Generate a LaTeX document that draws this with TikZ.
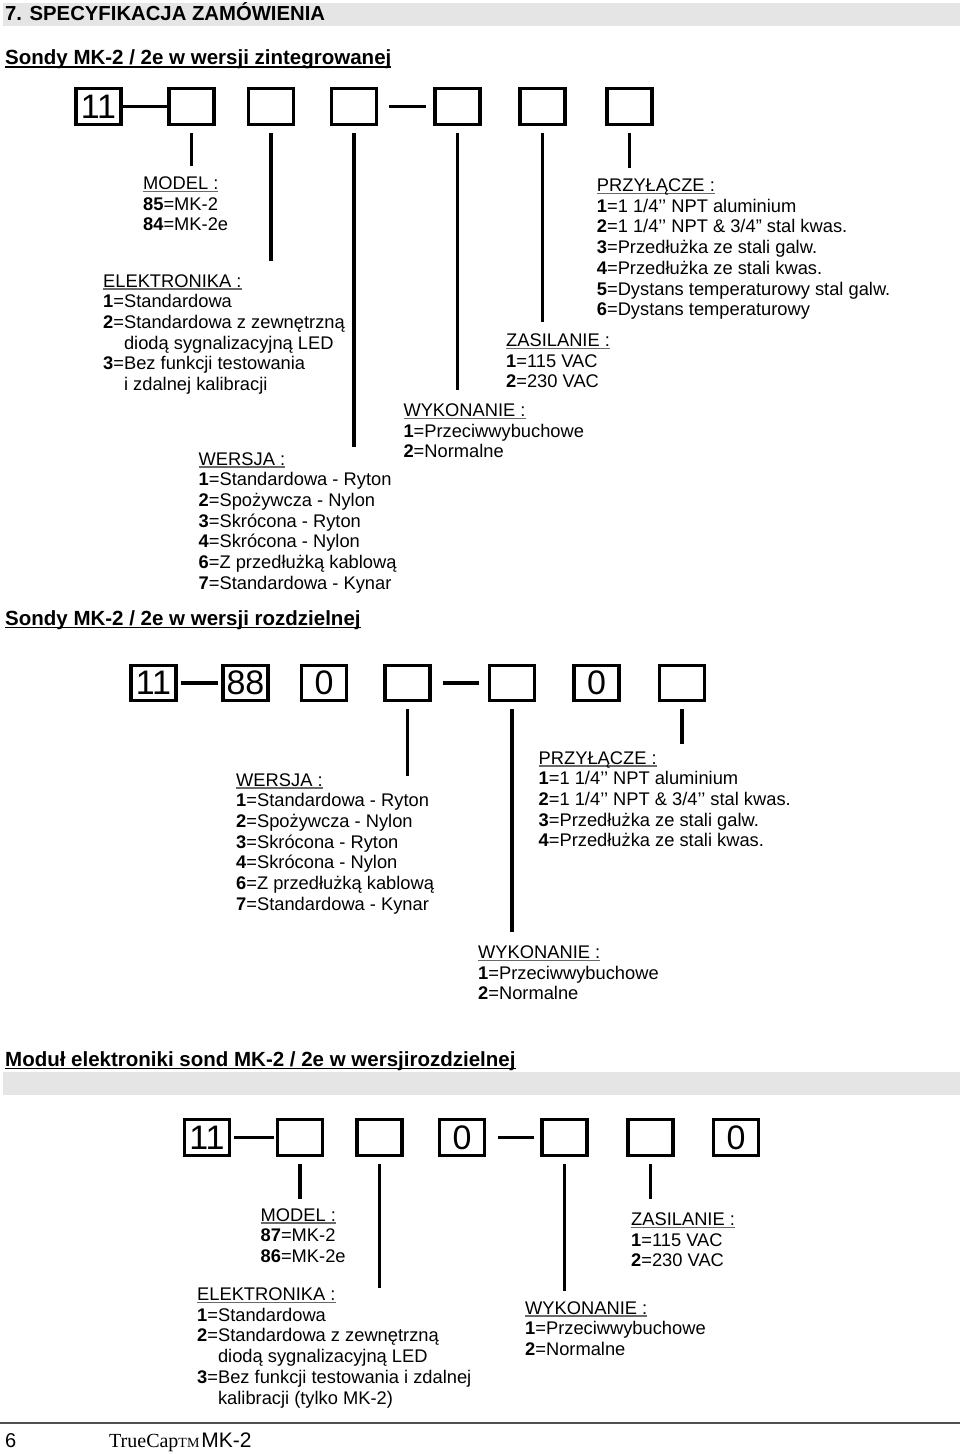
\documentclass[tikz,border=0pt]{standalone}
\usepackage{fontspec}
\setmainfont{Liberation Sans}
\newfontfamily\serifF{Liberation Serif}
\definecolor{band}{RGB}{229,229,229}
\definecolor{ulc}{RGB}{105,105,105}
\definecolor{foot}{RGB}{80,80,80}
\newcommand\lul[1]{\setbox0\hbox{#1}\rlap{\textcolor{ulc}{\rule[-2.6pt]{\wd0}{1.2pt}}}\box0}
\newcommand\hul[1]{\setbox0\hbox{#1}\rlap{\rule[-3.4pt]{\wd0}{1.7pt}}\box0}
\begin{document}
\begin{tikzpicture}[x=1pt,y=-1pt,
  box/.style={draw, line width=3.4pt, minimum width=45pt, minimum height=35.5pt, inner sep=0pt, font=\fontsize{34}{34}\selectfont},
  lead/.style={line width=3.2pt},
  hyph/.style={line width=3.4pt},
  txt/.style={anchor=base west, inner sep=0pt, font=\fontsize{18.3}{20.7}\selectfont},
  head/.style={anchor=base west, inner sep=0pt, font=\fontsize{20.5}{24}\selectfont\bfseries}]
\useasboundingbox (0,0) rectangle (960,1454);
% bands
\fill[band] (3,3) rectangle (960,26);
\fill[band] (3,1072) rectangle (960,1095);
\node[head, font=\fontsize{20.3}{24}\selectfont\bfseries] (title) at (5,20.7) {7. SPECYFIKACJA ZAMÓWIENIA};
\node[head] (h1) at (5,64.3) {\hul{Sondy MK-2 / 2e w wersji zintegrowanej}};
\node[head] (h2) at (5,625) {\hul{Sondy MK-2 / 2e w wersji rozdzielnej}};
\node[head] (h3) at (5,1066) {\hul{Moduł elektroniki sond MK-2 / 2e w wersjirozdzielnej}};

% ---------- diagram 1 ----------
\node[box] (a0) at (98.5,106.5) {11};
\node[box] (a1) at (191.5,106.5) {};
\node[box] (a2) at (271,106.5) {};
\node[box] (a3) at (354,106.5) {};
\node[box] (a4) at (457.5,106.5) {};
\node[box] (a5) at (542.5,106.5) {};
\node[box] (a6) at (629.5,106.5) {};
\draw[hyph] (a0.east) -- (a1.west);
\draw[hyph] ([xshift=10.5pt]a3.east) -- ([xshift=-7pt]a4.west);
\coordinate (a1e) at (191.5,166);
\coordinate (a2e) at (271,261);
\coordinate (a3e) at (354,447);
\coordinate (a4e) at (457.5,390);
\coordinate (a5e) at (542.5,322);
\coordinate (a6e) at (629.5,168);
\foreach \n in {a1,a2,a3,a4,a5,a6}
  \draw[lead] ([yshift=-7.5pt]\n.south) -- (\n e);

\foreach \t [count=\i from 0] in {{\lul{MODEL :}},{\textbf{85}=MK-2},{\textbf{84}=MK-2e}}
  \node[txt] (ma-\i) at (143,189.5+20.7*\i) {\t};
\foreach \t [count=\i from 0] in {{\lul{ELEKTRONIKA :}},{\textbf{1}=Standardowa},{\textbf{2}=Standardowa z zewnętrzną},{\phantom{\textbf{2}=}diodą sygnalizacyjną LED},{\textbf{3}=Bez funkcji testowania},{\phantom{\textbf{3}=}i zdalnej kalibracji}}
  \node[txt] (ea-\i) at (103,287+20.7*\i) {\t};
\foreach \t [count=\i from 0] in {{\lul{WERSJA :}},{\textbf{1}=Standardowa - Ryton},{\textbf{2}=Spożywcza - Nylon},{\textbf{3}=Skrócona - Ryton},{\textbf{4}=Skrócona - Nylon},{\textbf{6}=Z przedłużką kablową},{\textbf{7}=Standardowa - Kynar}}
  \node[txt] (wa-\i) at (198.5,465+20.7*\i) {\t};
\foreach \t [count=\i from 0] in {{\lul{WYKONANIE :}},{\textbf{1}=Przeciwwybuchowe},{\textbf{2}=Normalne}}
  \node[txt] (ka-\i) at (403.3,416.5+20.7*\i) {\t};
\foreach \t [count=\i from 0] in {{\lul{ZASILANIE :}},{\textbf{1}=115 VAC},{\textbf{2}=230 VAC}}
  \node[txt] (za-\i) at (506,346.5+20.7*\i) {\t};
\foreach \t [count=\i from 0] in {{\lul{PRZYŁĄCZE :}},{\textbf{1}=1 1/4’’ NPT aluminium},{\textbf{2}=1 1/4’’ NPT \& 3/4” stal kwas.},{\textbf{3}=Przedłużka ze stali galw.},{\textbf{4}=Przedłużka ze stali kwas.},{\textbf{5}=Dystans temperaturowy stal galw.},{\textbf{6}=Dystans temperaturowy}}
  \node[txt] (pa-\i) at (596.7,191.5+20.7*\i) {\t};

% ---------- diagram 2 ----------
\node[box] (b0) at (153.5,683) {11};
\node[box] (b1) at (245.5,683) {88};
\node[box] (b2) at (324,683) {0};
\node[box] (b3) at (407.5,683) {};
\node[box] (b4) at (512,683) {};
\node[box] (b5) at (596.5,683) {0};
\node[box] (b6) at (682,683) {};
\draw[hyph] ([xshift=3pt]b0.east) -- ([xshift=-3pt]b1.west);
\draw[hyph] ([xshift=11pt]b3.east) -- ([xshift=-9pt]b4.west);
\coordinate (b3e) at (407.5,776);
\coordinate (b4e) at (512,932);
\coordinate (b6e) at (682,744);
\foreach \n in {b3,b4,b6}
  \draw[lead] ([yshift=-7pt]\n.south) -- (\n e);

\foreach \t [count=\i from 0] in {{\lul{WERSJA :}},{\textbf{1}=Standardowa - Ryton},{\textbf{2}=Spożywcza - Nylon},{\textbf{3}=Skrócona - Ryton},{\textbf{4}=Skrócona - Nylon},{\textbf{6}=Z przedłużką kablową},{\textbf{7}=Standardowa - Kynar}}
  \node[txt] (wb-\i) at (236,786+20.7*\i) {\t};
\foreach \t [count=\i from 0] in {{\lul{PRZYŁĄCZE :}},{\textbf{1}=1 1/4’’ NPT aluminium},{\textbf{2}=1 1/4’’ NPT \& 3/4’’ stal kwas.},{\textbf{3}=Przedłużka ze stali galw.},{\textbf{4}=Przedłużka ze stali kwas.}}
  \node[txt] (pb-\i) at (538.5,764+20.7*\i) {\t};
\foreach \t [count=\i from 0] in {{\lul{WYKONANIE :}},{\textbf{1}=Przeciwwybuchowe},{\textbf{2}=Normalne}}
  \node[txt] (kb-\i) at (478,958.5+20.7*\i) {\t};

% ---------- diagram 3 ----------
\node[box] (c0) at (207,1137.5) {11};
\node[box] (c1) at (300,1137.5) {};
\node[box] (c2) at (379.5,1137.5) {};
\node[box] (c3) at (462,1137.5) {0};
\node[box] (c4) at (564.5,1137.5) {};
\node[box] (c5) at (650.5,1137.5) {};
\node[box] (c6) at (736,1137.5) {0};
\draw[hyph] ([xshift=3pt]c0.east) -- ([xshift=-2pt]c1.west);
\draw[hyph] ([xshift=11.5pt]c3.east) -- ([xshift=-6pt]c4.west);
\coordinate (c1e) at (300,1199);
\coordinate (c2e) at (379.5,1288);
\coordinate (c4e) at (564.5,1291);
\coordinate (c5e) at (650.5,1199);
\foreach \n in {c1,c2,c4,c5}
  \draw[lead] ([yshift=-7pt]\n.south) -- (\n e);

\foreach \t [count=\i from 0] in {{\lul{MODEL :}},{\textbf{87}=MK-2},{\textbf{86}=MK-2e}}
  \node[txt] (mc-\i) at (260.5,1221+20.7*\i) {\t};
\foreach \t [count=\i from 0] in {{\lul{ZASILANIE :}},{\textbf{1}=115 VAC},{\textbf{2}=230 VAC}}
  \node[txt] (zc-\i) at (631,1225.5+20.7*\i) {\t};
\foreach \t [count=\i from 0] in {{\lul{ELEKTRONIKA :}},{\textbf{1}=Standardowa},{\textbf{2}=Standardowa z zewnętrzną},{\phantom{\textbf{2}=}diodą sygnalizacyjną LED},{\textbf{3}=Bez funkcji testowania i zdalnej},{\phantom{\textbf{3}=}kalibracji (tylko MK-2)}}
  \node[txt] (ec-\i) at (197,1300.5+20.7*\i) {\t};
\foreach \t [count=\i from 0] in {{\lul{WYKONANIE :}},{\textbf{1}=Przeciwwybuchowe},{\textbf{2}=Normalne}}
  \node[txt] (kc-\i) at (525,1314+20.7*\i) {\t};

% ---------- footer ----------
\fill[foot] (0,1421.8) rectangle (960,1424);
\node[txt, font=\fontsize{20}{24}\selectfont] (pg) at (5,1447) {6};
\node[txt] (brand) at (109,1447) {{\serifF\fontsize{20}{24}\selectfont TrueCap}{\serifF\fontsize{14}{16}\selectfont TM}\hspace{2pt}{\fontsize{21}{24}\selectfont MK-2}};
\end{tikzpicture}
\end{document}
